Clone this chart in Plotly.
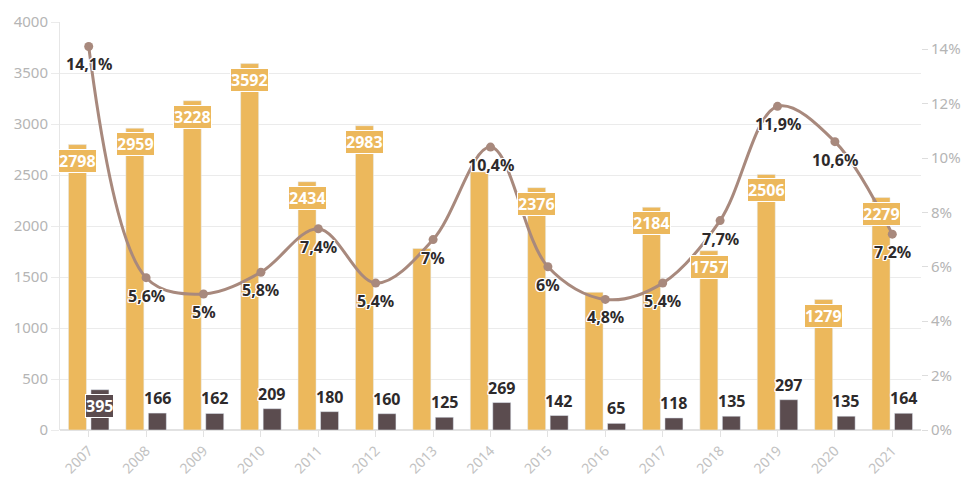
import plotly.graph_objects as go

years = ["2007", "2008", "2009", "2010", "2011", "2012", "2013", "2014",
         "2015", "2016", "2017", "2018", "2019", "2020", "2021"]
total = [2798, 2959, 3228, 3592, 2434, 2983, 1780, 2530, 2376, 1350, 2184, 1757, 2506, 1279, 2279]
subset = [395, 166, 162, 209, 180, 160, 125, 269, 142, 65, 118, 135, 297, 135, 164]
share = [14.1, 5.6, 5.0, 5.8, 7.4, 5.4, 7.0, 10.4, 6.0, 4.8, 5.4, 7.7, 11.9, 10.6, 7.2]

# totals without a printed value (their labels would sit under the line labels)
total_labels = [True] * 15
for idx in (6, 7, 9):
    total_labels[idx] = False

YELLOW = "#ECB85C"
DARK = "#5B4C4F"
LINE = "#A8897D"
INK = "#2E2A2B"
FONT = "Noto Sans"

HALO = ("white 1px 0 0, white -1px 0 0, white 0 1px 0, white 0 -1px 0, "
        "white 1px 1px 0, white -1px -1px 0, white 1px -1px 0, white -1px 1px 0")


def fmt_pct(v):
    s = ("%.1f" % v).rstrip("0").rstrip(".")
    return s.replace(".", ",") + "%"


fig = go.Figure()
fig.add_trace(go.Bar(x=years, y=total, marker_color=YELLOW, name="total",
                     offsetgroup="a", yaxis="y"))
fig.add_trace(go.Bar(x=years, y=subset, marker_color=DARK, name="subset",
                     offsetgroup="b", yaxis="y"))
fig.add_trace(go.Scatter(x=years, y=share, mode="lines+markers", yaxis="y2",
                         line=dict(color=LINE, width=3, shape="spline", smoothing=1.0),
                         marker=dict(color=LINE, size=9), name="share"))

# annotations on a category axis are positioned by category index
ann = []
for i, (v, show) in enumerate(zip(total, total_labels)):
    if not show:
        continue
    ann.append(dict(x=i, y=v, xref="x", yref="y", text="<b>%d</b>" % v,
                    showarrow=False, xshift=-11, yshift=-16,
                    bgcolor=YELLOW, borderpad=0, bordercolor="white", borderwidth=1,
                    font=dict(family=FONT, size=16, color="white")))
for i, v in enumerate(subset):
    if v > 300:
        ann.append(dict(x=i, y=v, xref="x", yref="y", text="<b>%d</b>" % v,
                        showarrow=False, xshift=11, yshift=-16,
                        bgcolor=DARK, borderpad=0, bordercolor="white", borderwidth=1,
                        font=dict(family=FONT, size=16, color="white")))
    else:
        ann.append(dict(x=i, y=v, xref="x", yref="y", text="<b>%d</b>" % v,
                        showarrow=False, xshift=11, yshift=15,
                        font=dict(family=FONT, size=16, color=INK, shadow=HALO)))
for i, v in enumerate(share):
    ann.append(dict(x=i, y=v, xref="x", yref="y2", text="<b>%s</b>" % fmt_pct(v),
                    showarrow=False, yshift=-18,
                    font=dict(family=FONT, size=16, color=INK, shadow=HALO)))

fig.update_layout(
    width=968, height=478,
    margin=dict(l=60, r=47, t=22, b=48, autoexpand=False),
    plot_bgcolor="white", paper_bgcolor="white",
    barmode="group", bargap=0.216, bargroupgap=0.2,
    showlegend=False, hovermode=False,
    font=dict(family=FONT, color="#B8B8B8"),
    annotations=ann,
    xaxis=dict(type="category", range=[-0.5, 14.5], tickangle=-45, showgrid=False,
               ticks="outside", ticklen=6, tickcolor="#E2E2E2",
               showline=False, zeroline=False, automargin=False,
               tickfont=dict(size=14, color="#C2C2C2")),
    yaxis=dict(range=[0, 4000], dtick=500, showgrid=True, gridcolor="#EBEBEB",
               gridwidth=1, zeroline=True, zerolinecolor="#E2E2E2",
               showline=True, linecolor="#E6E6E6", linewidth=1, automargin=False,
               ticks="outside", ticklen=8, tickcolor="#EBEBEB",
               tickfont=dict(size=15, color="#B5B5B5")),
    yaxis2=dict(range=[0, 15], tickvals=[0, 2, 4, 6, 8, 10, 12, 14],
                ticktext=["0%", "2%", "4%", "6%", "8%", "10%", "12%", "14%"],
                overlaying="y", side="right", showgrid=False, zeroline=False,
                ticks="outside", ticklen=6, tickcolor="#DDDDDD", automargin=False,
                tickfont=dict(size=15, color="#B5B5B5")),
)

fig.write_html("out.html")
